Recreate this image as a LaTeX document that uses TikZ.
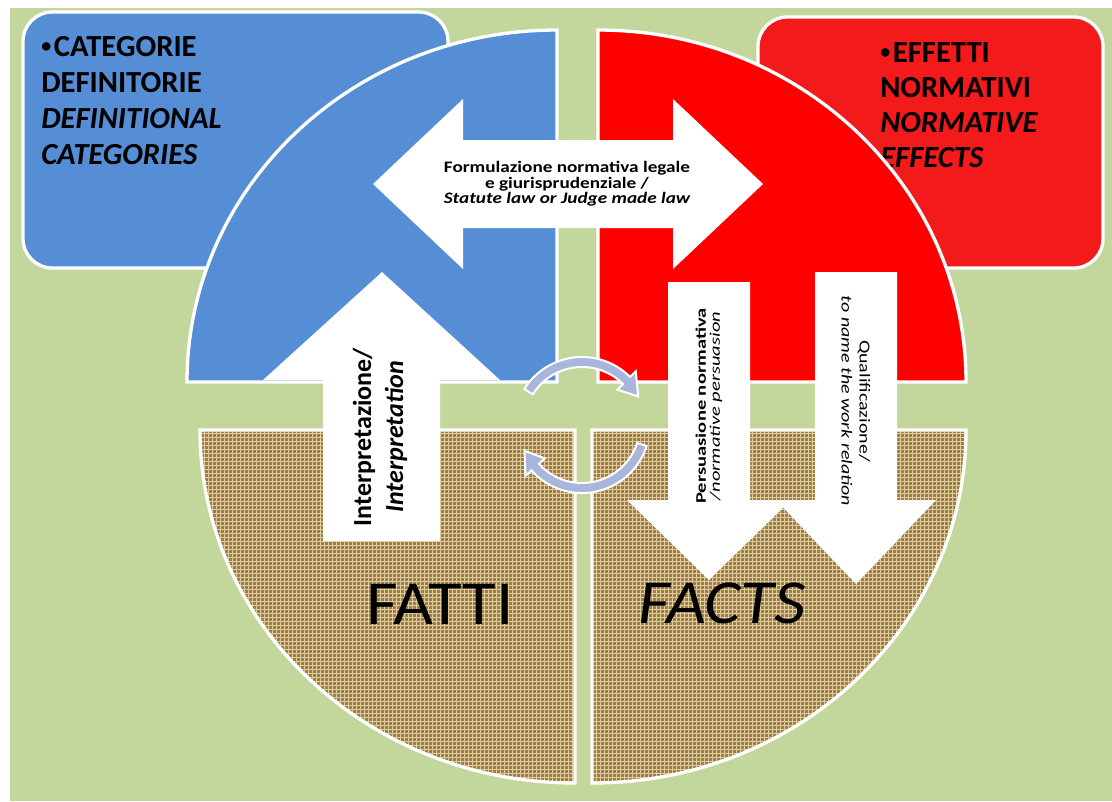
\documentclass[tikz,border=0pt]{standalone}
\usepackage{fontspec}
\setmainfont{Carlito}
\usepackage{graphicx}
\usepackage{tikz}
\usetikzlibrary{patterns}
\definecolor{factsgreen}{HTML}{C3D69B}
\definecolor{factsblue}{HTML}{558ED5}
\definecolor{factsred}{HTML}{FF0000}
\definecolor{factsbox}{HTML}{F21A1A}
\definecolor{factsburlap}{HTML}{9E7E48}
\definecolor{factsthread}{HTML}{E0CC9C}
\definecolor{factsturn}{HTML}{A9B6DC}
\newcommand{\factsbullet}{\raisebox{2.5pt}{\fontsize{15}{15}\selectfont •}\hspace{2pt}}

\begin{document}
\begin{tikzpicture}[x=0.75pt, y=-0.75pt,
  framebox/.style={draw=white, line width=2.5pt, rounded corners=22pt},
  quarter/.style={draw=white, line width=2.5pt},
  burlap/.style={quarter, preaction={fill=factsburlap}, pattern=grid, pattern color=factsthread},
  blockarrow/.style={fill=white},
  turnarrow/.style={fill=factsturn, draw=white, line width=1.5pt},
  boxtext/.style={anchor=base west, inner sep=0pt, font=\fontsize{23}{27}\selectfont\bfseries}]
  \useasboundingbox (0,0) rectangle (1112,801);
  \fill[white] (0,0) rectangle (1112,801);
  \fill[factsgreen] (10,8) rectangle (1112,801);

  % corner boxes
  \path[framebox, fill=factsblue] (23,12) rectangle (448,268);
  \path[framebox, fill=factsbox] (758,17) rectangle (1103,268);
  \node[boxtext] (cat1) at (41,56) {\factsbullet CATEGORIE};
  \node[boxtext] (cat2) at (41,92) {DEFINITORIE};
  \node[boxtext] (cat3) at (41,128) {\itshape DEFINITIONAL};
  \node[boxtext] (cat4) at (41,164) {\itshape CATEGORIES};
  \node[boxtext] (eff1) at (880,62) {\factsbullet EFFETTI};
  \node[boxtext] (eff2) at (880,97) {NORMATIVI};
  \node[boxtext] (eff3) at (880,132) {\itshape NORMATIVE};
  \node[boxtext] (eff4) at (880,167) {\itshape EFFECTS};

  % the four quarters
  \path[quarter, fill=factsblue] (557,382) -- (187,382)
    arc[start angle=180, end angle=270, x radius=370, y radius=352] -- cycle;
  \path[quarter, fill=factsred] (598,382) -- (598,30)
    arc[start angle=270, end angle=360, x radius=368, y radius=352] -- cycle;
  \path[burlap] (575,430) -- (200,430)
    arc[start angle=180, end angle=90, x radius=375, y radius=353] -- cycle;
  \path[burlap] (592,430) -- (966,430)
    arc[start angle=0, end angle=90, x radius=374, y radius=353] -- cycle;

  % white block arrows
  \path[blockarrow] (373,184) -- (463,99) -- (463,140) -- (673,140) -- (673,99)
    -- (763,184) -- (673,269) -- (673,228) -- (463,228) -- (463,269) -- cycle;
  \path[blockarrow] (323,541) -- (323,380) -- (263,380) -- (382,272)
    -- (500,380) -- (440,380) -- (440,541) -- cycle;
  \path[blockarrow] (668,282) -- (750,282) -- (750,500) -- (791,500)
    -- (709,580) -- (627,500) -- (668,500) -- cycle;
  \path[blockarrow] (815,272) -- (897,272) -- (897,500) -- (936,500)
    -- (856,584) -- (776,500) -- (815,500) -- cycle;

  % circular arrows
  \begin{scope}[shift={(582,425)}]
    \path[turnarrow] (-148:68) arc[start angle=-148, end angle=-45, radius=68]
      -- (-45:76) -- (-27:63) -- (-45:50) -- (-45:58)
      arc[start angle=-45, end angle=-148, radius=58] -- cycle;
    \path[turnarrow] (18:68) arc[start angle=18, end angle=138, radius=68]
      -- (138:76) -- (156:63) -- (138:50) -- (138:58)
      arc[start angle=138, end angle=18, radius=58] -- cycle;
  \end{scope}

  % labels
  \node[font=\fontsize{12}{11.5}\selectfont\bfseries, align=center] (law) at (567,184)
    {\scalebox{1.2}[1]{Formulazione normativa legale}\\ \scalebox{1.2}[1]{e giurisprudenziale /}\\
     \scalebox{1.2}[1]{\itshape Statute law or Judge made law}};
  \node[rotate=90, align=center, font=\fontsize{19.5}{24}\selectfont\bfseries] (interp) at (380,437)
    {Interpretazione/\\ \textit{Interpretation}};
  \node[rotate=90, align=center, font=\fontsize{11}{10.5}\selectfont] (persu) at (709,406)
    {\scalebox{1.4}[1]{\textbf{Persuasione normativa}}\\ \scalebox{1.4}[1]{\textit{/normative persuasion}}};
  \node[rotate=-90, align=center, font=\fontsize{11.5}{13.5}\selectfont] (qual) at (856,401)
    {\scalebox{1.3}[1]{Qualificazione/}\\ \scalebox{1.3}[1]{\textit{to name the work relation}}};
  \node[font=\fontsize{47}{47}\selectfont] (fatti) at (440,604) {\scalebox{1.1}[1]{FATTI}};
  \node[font=\fontsize{47}{47}\selectfont\itshape] (facts) at (722,603) {\scalebox{1.1}[1]{FACTS}};
\end{tikzpicture}
\end{document}
